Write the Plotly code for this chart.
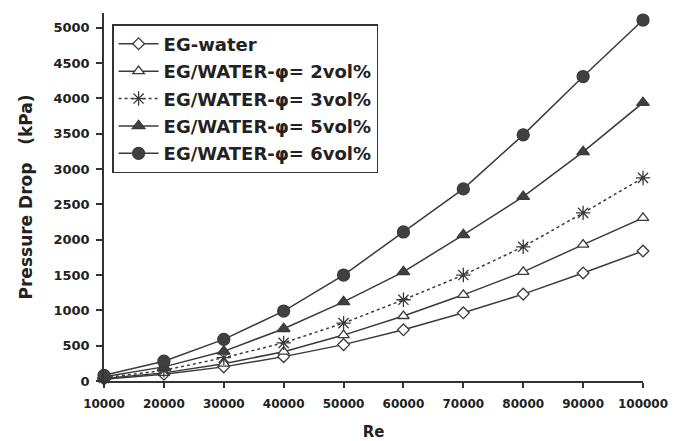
import plotly.graph_objects as go

re_vals = [10000, 20000, 30000, 40000, 50000, 60000, 70000, 80000, 90000, 100000]
eg_water = [25, 95, 200, 345, 515, 725, 965, 1230, 1530, 1840]
phi2 = [35, 115, 245, 415, 650, 920, 1220, 1545, 1930, 2310]
phi3 = [45, 150, 330, 540, 820, 1150, 1500, 1900, 2380, 2875]
phi5 = [60, 200, 420, 740, 1120, 1545, 2070, 2610, 3245, 3940]
phi6 = [80, 280, 590, 990, 1500, 2110, 2720, 3485, 4310, 5110]

names = ["EG-water", "EG/WATER-φ= 2vol%", "EG/WATER-φ= 3vol%",
         "EG/WATER-φ= 5vol%", "EG/WATER-φ= 6vol%"]
series = [eg_water, phi2, phi3, phi5, phi6]
y_ticks = [0, 500, 1000, 1500, 2000, 2500, 3000, 3500, 4000, 4500, 5000]

LC = "#3a3a3a"
styles = [
    dict(symbol="diamond", size=9, color="white", dash="solid"),
    dict(symbol="triangle-up", size=10, color="white", dash="solid"),
    dict(symbol="asterisk-open", size=12, color=LC, dash="dot"),
    dict(symbol="triangle-up", size=11, color="#404040", dash="solid"),
    dict(symbol="circle", size=12, color="#404040", dash="solid"),
]

fig = go.Figure()
for i, (nm, ys, st) in enumerate(zip(names, series, styles)):
    fig.add_trace(go.Scatter(
        x=re_vals, y=ys, name=nm, mode="lines+markers",
        legendgroup=f"g{i}",
        line=dict(color=LC, width=1.5, dash=st["dash"]),
        marker=dict(symbol=st["symbol"], size=st["size"], color=st["color"],
                    line=dict(color=LC, width=1.3)),
        cliponaxis=False,
    ))

font_fam = "DejaVu Sans"
fig.update_layout(
    width=675, height=433,
    margin=dict(l=96, r=40, t=5, b=60),
    paper_bgcolor="white", plot_bgcolor="white",
    font=dict(family=font_fam, color="#222222"),
    legend=dict(
        x=0.015, y=0.97, xanchor="left", yanchor="top",
        bgcolor="white", bordercolor="#333333", borderwidth=1.5,
        font=dict(family=font_fam, size=18, color="#222222", weight="bold"),
        tracegroupgap=1, itemwidth=40,
    ),
    xaxis=dict(
        range=[10000, 100000], tickvals=re_vals, automargin=False,
        ticktext=[str(v) for v in re_vals],
        showgrid=False, zeroline=False, showline=True, linecolor="#333333", linewidth=1.5,
        ticks="outside", ticklen=5, tickcolor="#333333", tickwidth=1.5,
        tickfont=dict(family=font_fam, size=12, weight="bold", color="#222222"),
        ticklabelstandoff=6,
        title=dict(text="<b>Re</b>", font=dict(family=font_fam, size=15, color="#222222"),
                   standoff=18),
    ),
    yaxis=dict(
        range=[0, 5210], tickvals=y_ticks, automargin=False,
        showgrid=False, zeroline=False, showline=True, linecolor="#333333", linewidth=1.5,
        ticks="outside", ticklen=6, tickcolor="#333333", tickwidth=1.5,
        tickfont=dict(family=font_fam, size=13, weight="bold", color="#222222"),
        ticklabelstandoff=4,
        title=dict(text="<b>Pressure Drop   (kPa)</b>",
                   font=dict(family=font_fam, size=17, color="#222222"), standoff=17),
    ),
)

fig.write_html("out.html")
